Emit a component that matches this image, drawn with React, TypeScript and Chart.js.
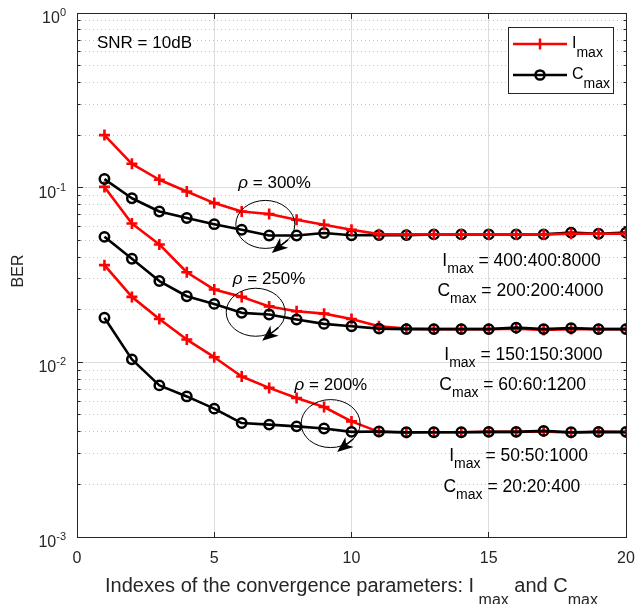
import React, { useEffect, useRef } from "react";
import { Chart, registerables } from "chart.js";

Chart.register(...registerables);

// ---------------- data ----------------
const indexes = [1, 2, 3, 4, 5, 6, 7, 8, 9, 10, 11, 12, 13, 14, 15, 16, 17, 18, 19, 20];

const berImax300 = [0.2, 0.137, 0.111, 0.095, 0.0816, 0.0731, 0.0706, 0.0655, 0.0613, 0.0574, 0.0542, 0.054, 0.054, 0.054, 0.054, 0.054, 0.054, 0.0545, 0.0545, 0.0545];
const berCmax300 = [0.112, 0.087, 0.073, 0.067, 0.0618, 0.0574, 0.0532, 0.0532, 0.055, 0.0534, 0.0535, 0.0535, 0.054, 0.054, 0.054, 0.054, 0.054, 0.0553, 0.0545, 0.0553];
const berImax250 = [0.101, 0.0624, 0.0473, 0.0328, 0.0261, 0.0237, 0.0209, 0.0196, 0.019, 0.0177, 0.0161, 0.0156, 0.0155, 0.0155, 0.0155, 0.0156, 0.0153, 0.0155, 0.0155, 0.0155];
const berCmax250 = [0.0523, 0.0392, 0.0292, 0.0239, 0.0216, 0.0192, 0.0188, 0.0176, 0.0166, 0.0161, 0.0156, 0.0155, 0.0155, 0.0155, 0.0155, 0.0158, 0.0155, 0.0157, 0.0155, 0.0155];
const berImax200 = [0.036, 0.0237, 0.0177, 0.0135, 0.0107, 0.0083, 0.00714, 0.00625, 0.00555, 0.00459, 0.004, 0.00395, 0.00398, 0.00398, 0.004, 0.004, 0.00402, 0.00395, 0.004, 0.00398];
const berCmax200 = [0.018, 0.0104, 0.00738, 0.00638, 0.00543, 0.00449, 0.0044, 0.0043, 0.00418, 0.004, 0.00402, 0.00398, 0.00398, 0.00398, 0.004, 0.004, 0.00405, 0.00398, 0.004, 0.004];

const xTickValues = [0, 5, 10, 15, 20];
const yDecadeExponents = [-3, -2, -1, 0];

const rhoLabels = ["300%", "250%", "200%"];
const imaxRanges = ["400:400:8000", "150:150:3000", "50:50:1000"];
const cmaxRanges = ["200:200:4000", "60:60:1200", "20:20:400"];

// annotation anchors (data coordinates)
const rhoLabelAnchors: [number, number][] = [[7.2, 0.108], [7.0, 0.0304], [9.25, 0.0075]];
const rhoEllipseAnchors: [number, number][] = [[6.86, 0.0616], [6.51, 0.01935], [9.24, 0.00446]];
const imaxLabelAnchors: [number, number][] = [[13.31, 0.03565], [13.38, 0.0103], [13.56, 0.00271]];
const cmaxLabelAnchors: [number, number][] = [[13.13, 0.02399], [13.2, 0.00692], [13.35, 0.00181]];

// ---------------- styles ----------------
const FONT = '"Liberation Sans", Arial, Helvetica, sans-serif';
const AXIS_COLOR = "#262626";
const RED = "#ff0000";
const BLACK = "#000000";

type Seg = { t: string; size: number; dy?: number; italic?: boolean };

function fontOf(size: number, italic?: boolean) {
  return `${italic ? "italic " : ""}${size}px ${FONT}`;
}

function drawSegs(ctx: CanvasRenderingContext2D, segs: Seg[], x: number, y: number, align: "left" | "center" | "right", color: string) {
  ctx.save();
  ctx.fillStyle = color;
  ctx.textAlign = "left";
  ctx.textBaseline = "alphabetic";
  let total = 0;
  const widths: number[] = [];
  for (const s of segs) {
    ctx.font = fontOf(s.size, s.italic);
    const w = ctx.measureText(s.t).width;
    widths.push(w);
    total += w;
  }
  let cx = align === "center" ? x - total / 2 : align === "right" ? x - total : x;
  segs.forEach((s, i) => {
    ctx.font = fontOf(s.size, s.italic);
    ctx.fillText(s.t, cx, y + (s.dy || 0));
    cx += widths[i];
  });
  ctx.restore();
}

const px = (v: number) => Math.floor(v) + 0.5;

const decorPlugin = {
  id: "matlabDecor",
  beforeDatasetsDraw(chart: any) {
    const { ctx, chartArea: a, scales } = chart;
    const y = scales.y;
    ctx.save();
    ctx.strokeStyle = "#c4c4c4";
    ctx.lineWidth = 1;
    ctx.setLineDash([1, 3]);
    for (let e = -3; e < 0; e++) {
      for (let m = 2; m <= 9; m++) {
        const py = px(y.getPixelForValue(m * Math.pow(10, e)));
        ctx.beginPath();
        ctx.moveTo(a.left, py);
        ctx.lineTo(a.right, py);
        ctx.stroke();
      }
    }
    ctx.restore();
  },
  afterDatasetsDraw(chart: any) {
    const { ctx, chartArea: a, scales } = chart;
    const xs = scales.x;
    const ys = scales.y;

    // ---- annotations: ellipses, arrows, labels ----
    ctx.save();
    rhoEllipseAnchors.forEach(([dx, dy]) => {
      const cx = xs.getPixelForValue(dx);
      const cy = ys.getPixelForValue(dy);
      ctx.strokeStyle = BLACK;
      ctx.lineWidth = 1;
      ctx.beginPath();
      ctx.ellipse(cx, cy, 29.5, 24, 0, 0, Math.PI * 2);
      ctx.stroke();
      // arrow
      const sx = cx + 22.6, sy = cy + 15.4;
      const tx = cx + 6.5, ty = cy + 28.5;
      const vx = tx - sx, vy = ty - sy;
      const len = Math.hypot(vx, vy);
      const ux = vx / len, uy = vy / len;
      const nx = -uy, ny = ux;
      const headLen = 16, half = 6.5, notch = 4.5;
      const bx = tx - ux * headLen, by = ty - uy * headLen;
      ctx.lineWidth = 1.5;
      ctx.beginPath();
      ctx.moveTo(sx, sy);
      ctx.lineTo(bx + ux * notch, by + uy * notch);
      ctx.stroke();
      ctx.fillStyle = BLACK;
      ctx.beginPath();
      ctx.moveTo(tx, ty);
      ctx.lineTo(bx + nx * half, by + ny * half);
      ctx.lineTo(bx + ux * notch, by + uy * notch);
      ctx.lineTo(bx - nx * half, by - ny * half);
      ctx.closePath();
      ctx.fill();
    });
    ctx.restore();

    rhoLabelAnchors.forEach(([dx, dy], i) => {
      const lx = xs.getPixelForValue(dx);
      const ly = ys.getPixelForValue(dy) + 6;
      drawSegs(ctx, [{ t: "ρ", size: 17, italic: true }, { t: " = " + rhoLabels[i], size: 17 }], lx, ly, "center", BLACK);
    });
    imaxLabelAnchors.forEach(([dx, dy], i) => {
      drawSegs(ctx, [{ t: "I", size: 17.5 }, { t: "max", size: 14, dy: 7 }, { t: " = " + imaxRanges[i], size: 17.5 }],
        xs.getPixelForValue(dx), ys.getPixelForValue(dy), "left", BLACK);
    });
    cmaxLabelAnchors.forEach(([dx, dy], i) => {
      drawSegs(ctx, [{ t: "C", size: 17.5 }, { t: "max", size: 14, dy: 7 }, { t: " = " + cmaxRanges[i], size: 17.5 }],
        xs.getPixelForValue(dx), ys.getPixelForValue(dy), "left", BLACK);
    });

    // SNR label
    drawSegs(ctx, [{ t: "SNR = 10dB", size: 17 }], a.left + 20, a.top + 35, "left", BLACK);

    // ---- box & inward ticks ----
    ctx.save();
    ctx.strokeStyle = AXIS_COLOR;
    ctx.lineWidth = 1;
    const L = px(a.left), R = px(a.right), T = px(a.top), B = px(a.bottom);
    ctx.strokeRect(L, T, R - L, B - T);
    ctx.beginPath();
    xTickValues.forEach((v) => {
      const p = px(xs.getPixelForValue(v));
      ctx.moveTo(p, B); ctx.lineTo(p, B - 5.5);
      ctx.moveTo(p, T); ctx.lineTo(p, T + 5.5);
    });
    for (let e = -3; e <= 0; e++) {
      const p = px(ys.getPixelForValue(Math.pow(10, e)));
      ctx.moveTo(L, p); ctx.lineTo(L + 5.5, p);
      ctx.moveTo(R, p); ctx.lineTo(R - 5.5, p);
      if (e < 0) {
        for (let m = 2; m <= 9; m++) {
          const q = px(ys.getPixelForValue(m * Math.pow(10, e)));
          ctx.moveTo(L, q); ctx.lineTo(L + 3, q);
          ctx.moveTo(R, q); ctx.lineTo(R - 3, q);
        }
      }
    }
    ctx.stroke();
    ctx.restore();

    // ---- tick labels ----
    xTickValues.forEach((v) => {
      drawSegs(ctx, [{ t: String(v), size: 16 }], xs.getPixelForValue(v), a.bottom + 26, "center", AXIS_COLOR);
    });
    yDecadeExponents.forEach((e) => {
      const p = ys.getPixelForValue(Math.pow(10, e));
      drawSegs(ctx, [{ t: "10", size: 16 }, { t: String(e), size: 11, dy: -7 }], a.left - 11, p + 10, "right", AXIS_COLOR);
    });

    // ---- axis titles ----
    drawSegs(ctx, [
      { t: "Indexes of the convergence parameters: I", size: 20 },
      { t: " max", size: 16, dy: 13 },
      { t: " and C", size: 20 },
      { t: "max", size: 16, dy: 13 },
    ], (a.left + a.right) / 2, a.bottom + 55, "center", AXIS_COLOR);

    ctx.save();
    ctx.translate(19, (a.top + a.bottom) / 2 - 4);
    ctx.rotate(-Math.PI / 2);
    ctx.fillStyle = AXIS_COLOR;
    ctx.font = fontOf(16);
    ctx.textAlign = "center";
    ctx.textBaseline = "middle";
    ctx.fillText("BER", 0, 0);
    ctx.restore();

    // ---- legend ----
    const bw = 105, bh = 66;
    const bl = a.right - 13 - bw, bt = a.top + 14;
    ctx.save();
    ctx.fillStyle = "#ffffff";
    ctx.fillRect(bl, bt, bw, bh);
    ctx.strokeStyle = AXIS_COLOR;
    ctx.lineWidth = 1;
    ctx.strokeRect(px(bl), px(bt), bw, bh);
    const y1 = bt + 17, y2 = bt + 48;
    ctx.lineWidth = 2.5;
    ctx.strokeStyle = RED;
    ctx.beginPath();
    ctx.moveTo(bl + 5, y1); ctx.lineTo(bl + 59, y1);
    ctx.moveTo(bl + 32 - 5.5, y1); ctx.lineTo(bl + 32 + 5.5, y1);
    ctx.moveTo(bl + 32, y1 - 5.5); ctx.lineTo(bl + 32, y1 + 5.5);
    ctx.stroke();
    ctx.strokeStyle = BLACK;
    ctx.beginPath();
    ctx.moveTo(bl + 5, y2); ctx.lineTo(bl + 59, y2);
    ctx.stroke();
    ctx.lineWidth = 2.5;
    ctx.beginPath();
    ctx.arc(bl + 32, y2, 4.6, 0, Math.PI * 2);
    ctx.stroke();
    ctx.restore();
    drawSegs(ctx, [{ t: "I", size: 16 }, { t: "max", size: 14, dy: 9 }], bl + 64, y1 + 3.5, "left", BLACK);
    drawSegs(ctx, [{ t: "C", size: 16 }, { t: "max", size: 14, dy: 9 }], bl + 64, y2 + 4, "left", BLACK);
  },
};

function series(values: number[]) {
  return indexes.map((x, i) => ({ x, y: values[i] }));
}

function redSet(label: string, values: number[]) {
  return {
    label,
    data: series(values),
    borderColor: RED,
    borderWidth: 2.6,
    pointStyle: "cross" as const,
    pointRadius: 5.5,
    pointBorderWidth: 2.6,
    pointBorderColor: RED,
    pointBackgroundColor: RED,
    borderJoinStyle: "round" as const,
    tension: 0,
  };
}

function blackSet(label: string, values: number[]) {
  return {
    label,
    data: series(values),
    borderColor: BLACK,
    borderWidth: 2.6,
    pointStyle: "circle" as const,
    pointRadius: 4.7,
    pointBorderWidth: 2.5,
    pointBorderColor: BLACK,
    pointBackgroundColor: "rgba(0,0,0,0)",
    borderJoinStyle: "round" as const,
    tension: 0,
  };
}

export default function App() {
  const ref = useRef<HTMLCanvasElement>(null);
  useEffect(() => {
    document.body.style.margin = "0";
    const canvas = ref.current!;
    const chart = new Chart(canvas, {
      type: "line",
      data: {
        datasets: [
          redSet("Imax ρ=300%", berImax300),
          blackSet("Cmax ρ=250%", berCmax250),
          blackSet("Cmax ρ=200%", berCmax200),
          blackSet("Cmax ρ=300%", berCmax300),
          redSet("Imax ρ=250%", berImax250),
          redSet("Imax ρ=200%", berImax200),
        ] as any,
      },
      options: {
        responsive: false,
        devicePixelRatio: 1,
        animation: false,
        events: [],
        layout: { padding: { top: 13, right: 10, bottom: 0, left: 0 } },
        plugins: { legend: { display: false }, tooltip: { enabled: false } },
        scales: {
          x: {
            type: "linear",
            min: 0,
            max: 20,
            afterBuildTicks: (s: any) => { s.ticks = xTickValues.map((v) => ({ value: v })); },
            afterFit: (s: any) => { s.height = 67; },
            ticks: { display: false },
            grid: { color: "#dedede", lineWidth: 1, drawTicks: false },
            border: { display: false },
          },
          y: {
            type: "logarithmic",
            min: 0.001,
            max: 1,
            afterBuildTicks: (s: any) => { s.ticks = yDecadeExponents.map((e) => ({ value: Math.pow(10, e), major: true })); },
            afterFit: (s: any) => { s.width = 77; },
            ticks: { display: false },
            grid: { color: "#dedede", lineWidth: 1, drawTicks: false },
            border: { display: false },
          },
        },
      } as any,
      plugins: [decorPlugin],
    });
    return () => chart.destroy();
  }, []);
  return (
    <div style={{ width: 636, height: 604, background: "#ffffff" }}>
      <canvas ref={ref} width={636} height={604} style={{ display: "block" }} />
    </div>
  );
}
